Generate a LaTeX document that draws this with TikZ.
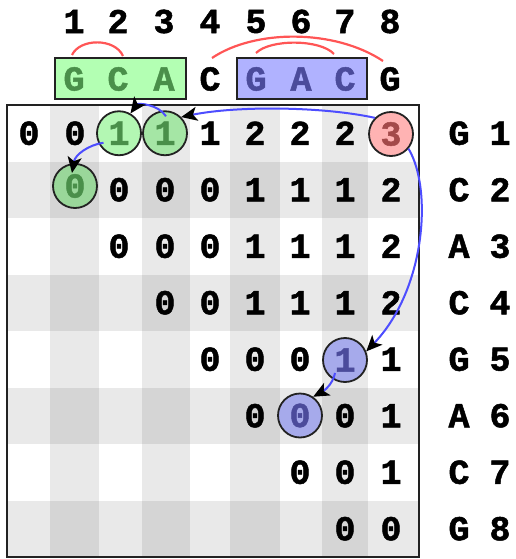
\documentclass[tikz,border=0pt]{standalone}
\usepackage{fontspec}
\setmonofont{Liberation Mono}[BoldFeatures={FakeBold=1.4}]
\usetikzlibrary{arrows.meta,calc}
\definecolor{shade0}{HTML}{FFFFFF}
\definecolor{shade1}{HTML}{E9E9E9}
\definecolor{shade2}{HTML}{D5D5D5}
\definecolor{arcred}{HTML}{FF5555}
\definecolor{pathblue}{HTML}{4D4DFF}
\definecolor{gfillA}{HTML}{B3F7B3}
\definecolor{gfillB}{HTML}{A5E6A5}
\definecolor{gfillC}{HTML}{9AD79A}
\definecolor{gtext}{HTML}{4A8F4A}
\definecolor{bfillA}{HTML}{A6AAEB}
\definecolor{btext}{HTML}{4B4B9B}
\definecolor{rfill}{HTML}{FFB3B3}
\definecolor{rtext}{HTML}{A34A4A}
\definecolor{boxgreen}{HTML}{B3FFB3}
\definecolor{boxblue}{HTML}{B0B2FF}
\definecolor{edge}{HTML}{222222}
\tikzset{
  lbl/.style={font=\ttfamily\bfseries\fontsize{35}{35}\selectfont, inner sep=0pt, anchor=center},
  circ/.style={lbl, circle, draw=edge, line width=1.8pt, minimum size=44pt},
  seqbox/.style={draw=edge, line width=2pt},
  pairarc/.style={draw=arcred, line width=2.2pt},
  tb/.style={draw=pathblue, line width=2pt, -{Stealth[length=16pt,width=14pt,inset=4pt,black]}}
}
\def\skipx{x}
\begin{document}
\begin{tikzpicture}[x=1pt,y=-1pt]
\useasboundingbox (0,0) rectangle (516,559);
% cell shading
\foreach \j/\xa/\xb in {0/7/50,1/50/99,2/99/142,3/142/190,4/190/230,5/230/280,6/280/322,7/322/368,8/368/419}{
  \foreach \i in {1,...,8}{
    \pgfmathtruncatemacro\s{mod(\i+1,2)+mod(\j,2)}
    \pgfmathsetmacro\ya{105+56.5*(\i-1)}
    \pgfmathsetmacro\yb{105+56.5*\i}
    \fill[shade\s] (\xa,\ya) rectangle (\xb,\yb);
  }
}
\draw[edge, line width=2pt] (7,105) rectangle (419,557);
% matrix values
\foreach \i/\st/\vals in {1/0/{0,0,x,x,1,2,2,2,x},2/1/{x,0,0,0,1,1,1,2},3/2/{0,0,0,1,1,1,2},4/3/{0,0,1,1,1,2},5/4/{0,0,0,x,1},6/5/{0,x,0,1},7/6/{0,0,1},8/7/{0,0}}{
  \foreach \v [count=\k from \st] in \vals {
    \ifx\v\skipx\else
      \pgfmathsetmacro\cx{{29,75,119,165,210,255,300,345,391}[\k]}
      \pgfmathsetmacro\cy{105+56.5*(\i-0.5)}
      \node[lbl] (m\i-\k) at (\cx,\cy) {\v};
    \fi
  }
}
% circled cells
\node[circ, fill=gfillA, text=gtext] (m1-2) at (119,133.25) {1};
\node[circ, fill=gfillB, text=gtext] (m1-3) at (165,133.25) {1};
\node[circ, fill=gfillC, text=gtext] (m2-1) at (75,186) {0};
\node[circ, fill=rfill, text=rtext] (m1-8) at (391,134) {3};
\node[circ, fill=bfillA, text=btext] (m5-7) at (345,360) {1};
\node[circ, fill=bfillA, text=btext] (m6-6) at (300,415.5) {0};
% row labels
\foreach \i/\c in {1/G,2/C,3/A,4/C,5/G,6/A,7/C,8/G}{
  \pgfmathsetmacro\cy{105+56.5*(\i-0.5)}
  \node[lbl] (rl\i) at (459,\cy) {\c};
  \node[lbl] (rn\i) at (500,\cy) {\i};
}
% sequence boxes
\draw[seqbox, fill=boxgreen] (55,58) rectangle (186,99);
\draw[seqbox, fill=boxblue] (237,58) rectangle (367,99);
% header
\foreach \k/\x/\c/\col in {1/74/G/gtext,2/118/C/gtext,3/164/A/gtext,4/210/C/black,5/256/G/btext,6/301/A/btext,7/345/C/btext,8/390/G/black}{
  \node[lbl] (hn\k) at (\x,21.5) {\k};
  \node[lbl, text=\col] (hl\k) at (\x,79) {\c};
}
% pairing arcs
\coordinate (p1s) at (72,55);  \coordinate (p1e) at (123,56);
\coordinate (p2s) at (212,58); \coordinate (p2e) at (383,61);
\coordinate (p3s) at (256,53); \coordinate (p3e) at (334,54);
\draw[pairarc] (p1s) .. controls (80,38) and (115,38) .. (p1e);
\draw[pairarc] (p2s) .. controls (255,29) and (335,29) .. (p2e);
\draw[pairarc] (p3s) .. controls (270,39) and (320,39) .. (p3e);
% traceback
\draw[tb] (m1-8.135) .. controls (320,106) and (235,106) .. (m1-3.45);
\draw[tb] ($(m1-3.center)+(1,-17)$) .. controls (158,104) and (138,103) .. (m1-2.60);
\draw[tb] ($(m1-2.center)+(-15.5,9.5)$) .. controls (88,145) and (75,155) .. ($(m2-1.center)+(-3,-13)$);
\draw[tb] (m1-8.-40) .. controls (433,190) and (425,290) .. (m5-7.22);
\draw[tb] ($(m5-7.center)+(-10,13)$) .. controls (333,385) and (322,392) .. (m6-6.55);
\end{tikzpicture}
\end{document}
